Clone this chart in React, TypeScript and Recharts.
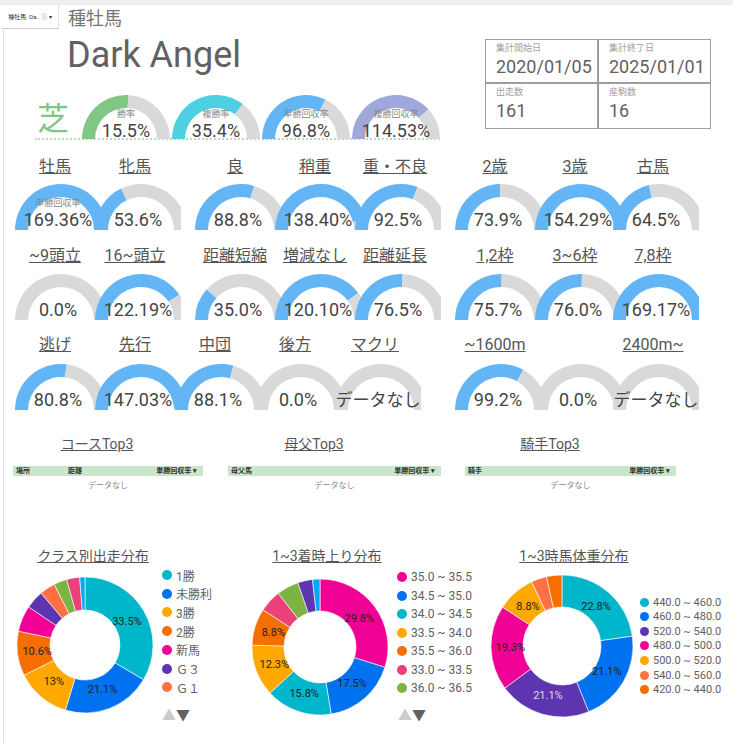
import { PieChart, Pie, Cell } from "recharts";

// 芝 summary
const turfNames = ["勝率", "複勝率", "単勝回収率", "複勝回収率"];
const turfValues = [15.5, 35.4, 96.8, 114.53];
const turfMax = [30, 50, 150, 150];

// 単勝回収率 gauges
const sexNames = ["牡馬", "牝馬"];
const sexValues = [169.36, 53.6];
const goingNames = ["良", "稍重", "重・不良"];
const goingValues = [88.8, 138.4, 92.5];
const ageNames = ["2歳", "3歳", "古馬"];
const ageValues = [73.9, 154.29, 64.5];
const fieldNames = ["~9頭立", "16~頭立"];
const fieldValues = [0.0, 122.19];
const distChangeNames = ["距離短縮", "増減なし", "距離延長"];
const distChangeValues = [35.0, 120.1, 76.5];
const gateNames = ["1,2枠", "3~6枠", "7,8枠"];
const gateValues = [75.7, 76.0, 169.17];
const styleNames = ["逃げ", "先行", "中団", "後方", "マクリ"];
const styleValues = [80.8, 147.03, 88.1, 0.0, null];
const distNames = ["~1600m", "", "2400m~"];
const distValues = [99.2, 0.0, null];
const GAUGE_MAX = 150;

// info box
const infoLabels = ["集計開始日", "集計終了日", "出走数", "産駒数"];
const infoValues = ["2020/01/05", "2025/01/01", "161", "16"];

// tables
const tableTitles = ["コースTop3", "母父Top3", "騎手Top3"];

// donuts
const classNames = ["1勝", "未勝利", "3勝", "2勝", "新馬", "Ｇ３", "Ｇ１", "ＯＰ", "Ｌ", "Ｇ２"];
const classCounts = [54, 34, 21, 17, 10, 7, 6, 5, 5, 2];
const agariNames = ["35.0 ~ 35.5", "34.5 ~ 35.0", "34.0 ~ 34.5", "33.5 ~ 34.0", "35.5 ~ 36.0", "33.0 ~ 33.5", "36.0 ~ 36.5", "32.5 ~ 33.0", "36.5 ~ 37.0"];
const agariCounts = [17, 10, 9, 7, 5, 3, 3, 2, 1];
const weightNames = ["440.0 ~ 460.0", "460.0 ~ 480.0", "520.0 ~ 540.0", "480.0 ~ 500.0", "500.0 ~ 520.0", "540.0 ~ 560.0", "420.0 ~ 440.0"];
const weightCounts = [13, 12, 12, 11, 5, 2, 2];

const TEAL = "#00b6cb", BLUE = "#0072f0", YEL = "#ffa800", ORG = "#f66d00", MAG = "#f10096",
  PUR = "#5e35b1", ORED = "#ff7043", GRN = "#7cb342", PINK = "#ec407a", LBLUE = "#03a9f4";
const classColors = [TEAL, BLUE, YEL, ORG, MAG, PUR, ORED, GRN, PINK, LBLUE];
const agariColors = [MAG, BLUE, TEAL, YEL, ORG, PINK, GRN, PUR, LBLUE];
const weightColors = [TEAL, BLUE, PUR, MAG, YEL, ORED, ORG];

const FONT = "Roboto, 'Noto Sans CJK JP', sans-serif";
const GREY = "#d9d9d9";
const GAUGE_BLUE = "#64b5f6";
const turfColors = ["#81c784", "#4dd0e1", "#64b5f6", "#9fa8da"];
const NO_MARGIN = { top: 0, right: 0, bottom: 0, left: 0 };

const fmt = (v) => (v == null ? "データなし" : (v >= 100 ? v.toFixed(2) : v.toFixed(1)) + "%");

function Arc({ left, bottom, R, r, value, max, color, width }) {
  const v = value == null ? 0 : Math.min(value, max);
  const data = [{ name: "v", value: v }, { name: "rest", value: max - v }];
  return (
    <div style={{ position: "absolute", left, top: bottom - R, width, height: R, overflow: "hidden" }}>
      <PieChart width={R * 2} height={R} margin={NO_MARGIN}>
        <Pie
          data={data}
          dataKey="value"
          cx={R}
          cy={R}
          startAngle={180}
          endAngle={0}
          innerRadius={r}
          outerRadius={R}
          stroke="none"
          isAnimationActive={false}
        >
          <Cell fill={color} />
          <Cell fill={GREY} />
        </Pie>
      </PieChart>
    </div>
  );
}

function GaugeRow({ lefts, names, values, bottom, titleY, sub }) {
  return (
    <>
      {values.map((v, i) => (
        <div key={i}>
          {names[i] ? (
            <div style={{ position: "absolute", left: lefts[i] - 20, width: 120, top: titleY - 10, lineHeight: "20px", fontSize: 16, color: "#555", textAlign: "center", textDecoration: "underline" }}>
              {names[i]}
            </div>
          ) : null}
          <Arc left={lefts[i]} bottom={bottom} R={46} r={33} value={v} max={GAUGE_MAX} color={GAUGE_BLUE} width={86} />
          {sub && i === 0 ? (
            <div style={{ position: "absolute", left: lefts[i] - 7, width: 100, top: bottom - 32, fontSize: 9, color: "#888", textAlign: "center", lineHeight: "10px" }}>
              {sub}
            </div>
          ) : null}
          <div style={{ position: "absolute", left: lefts[i] - 17, width: 120, top: bottom - 19, lineHeight: "18px", fontSize: v == null ? 17 : 18, color: "#444", textAlign: "center" }}>
            {fmt(v)}
          </div>
        </div>
      ))}
    </>
  );
}

const RADIAN = Math.PI / 180;
const makeLabel = (colors) => (props) => {
  const { cx, cy, midAngle, innerRadius, outerRadius, percent, index } = props;
  if (percent < 0.08) return null;
  const rr = innerRadius + (outerRadius - innerRadius) * 0.4;
  const x = cx + rr * Math.cos(-midAngle * RADIAN);
  const y = cy + rr * Math.sin(-midAngle * RADIAN);
  const txt = (percent * 100).toFixed(1).replace(/\.0$/, "") + "%";
  return (
    <text x={x} y={y} textAnchor="middle" dominantBaseline="central" fontSize={11} fill={colors[index] === PUR ? "#ddd" : "#222"} fontFamily={FONT}>
      {txt}
    </text>
  );
};

function Donut({ left, top, size, R, r, names, counts, colors }) {
  const data = names.map((n, i) => ({ name: n, value: counts[i] }));
  return (
    <div style={{ position: "absolute", left, top }}>
      <PieChart width={size} height={size} margin={NO_MARGIN}>
        <Pie
          data={data}
          dataKey="value"
          cx={size / 2}
          cy={size / 2}
          startAngle={90}
          endAngle={-270}
          innerRadius={r}
          outerRadius={R}
          stroke="#fff"
          strokeWidth={0.6}
          label={makeLabel(colors)}
          labelLine={false}
          isAnimationActive={false}
        >
          {data.map((d, i) => (
            <Cell key={i} fill={colors[i]} />
          ))}
        </Pie>
      </PieChart>
    </div>
  );
}

function DonutLegend({ left, top, step, names, colors, count, fontSize, dot }) {
  return (
    <div style={{ position: "absolute", left, top }}>
      {names.slice(0, count).map((n, i) => (
        <div key={i} style={{ position: "absolute", top: i * step, left: 0, display: "flex", alignItems: "center", whiteSpace: "nowrap", height: 14 }}>
          <span style={{ width: dot, height: dot, borderRadius: "50%", background: colors[i], display: "inline-block" }} />
          <span style={{ marginLeft: 4, fontSize, color: "#616161" }}>{n}</span>
        </div>
      ))}
    </div>
  );
}

export default function App() {
  const row1Left = [15, 95, 195, 275, 355];
  const rowRight = [455, 535, 613];
  const row3Left = [15, 95, 175, 255, 335];
  return (
    <div style={{ position: "absolute", left: 0, top: 0, width: 733, height: 743, background: "#fff", fontFamily: FONT, overflow: "hidden" }}>
      <div style={{ position: "absolute", left: 0, top: 0, width: 733, height: 5, background: "#eee" }} />
      <div style={{ position: "absolute", left: 3, top: 5, width: 1, height: 738, background: "#e0e0e0" }} />

      {/* filter control */}
      <div style={{ position: "absolute", left: 2, top: 5, width: 56, height: 23, background: "#fff", borderBottom: "1px solid #ccc", borderRight: "1px solid #e0e0e0", fontSize: 6, color: "#333", lineHeight: "23px", textAlign: "center", whiteSpace: "nowrap" }}>
        種牡馬: Da.. ⓘ ▾
      </div>

      <div style={{ position: "absolute", left: 68, top: 8, fontSize: 18, color: "#757575", lineHeight: "22px" }}>種牡馬</div>
      <div style={{ position: "absolute", left: 67, top: 34, fontSize: 36, color: "#616161", lineHeight: "42px" }}>Dark Angel</div>

      {/* info grid */}
      <div style={{ position: "absolute", left: 485, top: 39, width: 224, height: 88, border: "1.5px solid #9e9e9e" }} />
      <div style={{ position: "absolute", left: 597, top: 39, width: 1.5, height: 90, background: "#9e9e9e" }} />
      <div style={{ position: "absolute", left: 485, top: 82, width: 226, height: 1.5, background: "#9e9e9e" }} />
      {infoLabels.map((l, i) => {
        const x = i % 2 === 0 ? 496 : 609;
        const y = i < 2 ? 0 : 44;
        return (
          <div key={i}>
            <div style={{ position: "absolute", left: x, top: 43 + y, fontSize: 9, color: "#9e9e9e", lineHeight: "10px" }}>{l}</div>
            <div style={{ position: "absolute", left: x, top: 57 + y, fontSize: 18, color: "#616161", lineHeight: "20px" }}>{infoValues[i]}</div>
          </div>
        );
      })}

      {/* 芝 */}
      <div style={{ position: "absolute", left: 37, top: 101, fontSize: 32, color: "#81c784", lineHeight: "36px" }}>芝</div>
      <div style={{ position: "absolute", left: 35, top: 138, width: 405, borderTop: "2px dotted #b9dfba" }} />
      {turfValues.map((v, i) => {
        const left = 82 + i * 90;
        return (
          <div key={i}>
            <Arc left={left} bottom={139} R={44} r={31} value={v} max={turfMax[i]} color={turfColors[i]} width={88} />
            <div style={{ position: "absolute", left: left - 6, width: 100, top: 109, fontSize: 9, color: "#888", textAlign: "center", lineHeight: "10px" }}>{turfNames[i]}</div>
            <div style={{ position: "absolute", left: left - 16, width: 120, top: 122, fontSize: 18, color: "#444", textAlign: "center", lineHeight: "17px" }}>{fmt(v).replace(/^(\d+\.\d)0%$/, "$1%")}</div>
          </div>
        );
      })}

      {/* gauge rows */}
      <GaugeRow lefts={row1Left.slice(0, 2)} names={sexNames} values={sexValues} bottom={230} titleY={167} sub="単勝回収率" />
      <GaugeRow lefts={row1Left.slice(2)} names={goingNames} values={goingValues} bottom={230} titleY={167} />
      <GaugeRow lefts={rowRight} names={ageNames} values={ageValues} bottom={230} titleY={167} />
      <GaugeRow lefts={row1Left.slice(0, 2)} names={fieldNames} values={fieldValues} bottom={320} titleY={256} />
      <GaugeRow lefts={row1Left.slice(2)} names={distChangeNames} values={distChangeValues} bottom={320} titleY={256} />
      <GaugeRow lefts={rowRight} names={gateNames} values={gateValues} bottom={320} titleY={256} />
      <GaugeRow lefts={row3Left} names={styleNames} values={styleValues} bottom={410} titleY={345} />
      <GaugeRow lefts={rowRight} names={distNames} values={distValues} bottom={410} titleY={345} />

      {/* tables */}
      {tableTitles.map((t, i) => {
        const x0 = [13, 228, 465][i];
        const w = [190, 213, 211][i];
        const tc = [97, 314, 550][i];
        return (
          <div key={i}>
            <div style={{ position: "absolute", left: tc - 60, width: 120, top: 436, fontSize: 14, color: "#555", textAlign: "center", textDecoration: "underline", lineHeight: "16px" }}>{t}</div>
            <div style={{ position: "absolute", left: x0, top: 466, width: w, height: 10, background: "#c8e6c9", fontSize: 7, fontWeight: "bold", color: "#333", lineHeight: "10px" }}>
              <span style={{ position: "absolute", left: 3 }}>{["場所", "母父馬", "騎手"][i]}</span>
              {i === 0 ? <span style={{ position: "absolute", left: 55 }}>距離</span> : null}
              <span style={{ position: "absolute", right: 6 }}>単勝回収率 ▾</span>
            </div>
            <div style={{ position: "absolute", left: x0, width: w, top: 481, fontSize: 8, color: "#888", textAlign: "center", lineHeight: "10px" }}>データなし</div>
          </div>
        );
      })}

      {/* donut titles */}
      {["クラス別出走分布", "1~3着時上り分布", "1~3時馬体重分布"].map((t, i) => (
        <div key={i} style={{ position: "absolute", left: [93, 327, 574][i] - 80, width: 160, top: 547, fontSize: 14, color: "#555", textAlign: "center", textDecoration: "underline", lineHeight: "18px" }}>{t}</div>
      ))}

      <Donut left={85 - 80} top={645 - 80} size={160} R={68} r={35} names={classNames} counts={classCounts} colors={classColors} />
      <Donut left={320 - 80} top={647 - 80} size={160} R={68} r={36} names={agariNames} counts={agariCounts} colors={agariColors} />
      <Donut left={562 - 80} top={646 - 80} size={160} R={71} r={39} names={weightNames} counts={weightCounts} colors={weightColors} />

      <DonutLegend left={162} top={568} step={18.7} names={classNames} colors={classColors} count={7} fontSize={12} dot={10} />
      <DonutLegend left={397} top={570} step={18.5} names={agariNames} colors={agariColors} count={7} fontSize={12} dot={10} />
      <DonutLegend left={640} top={595} step={14.6} names={weightNames} colors={weightColors} count={7} fontSize={11} dot={9} />

      {[162, 398].map((x, i) => (
        <div key={i} style={{ position: "absolute", left: x, top: 707, fontSize: 14, lineHeight: "16px", whiteSpace: "nowrap" }}>
          <span style={{ color: "#ccc" }}>▲</span>
          <span style={{ color: "#616161" }}>▼</span>
        </div>
      ))}
    </div>
  );
}
